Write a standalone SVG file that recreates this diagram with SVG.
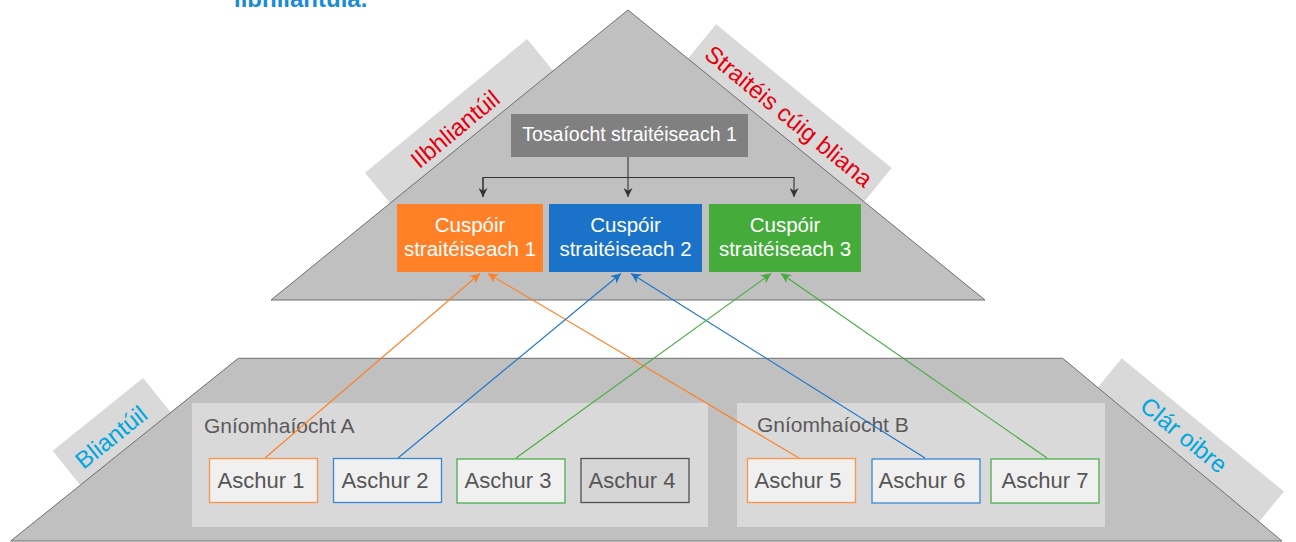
<svg xmlns="http://www.w3.org/2000/svg" width="1296" height="542" viewBox="0 0 1296 542">
<style>
  text { font-family: "Liberation Sans", Arial, sans-serif; }
  .ribbon { fill: #d9d9d9; }
  .shape { fill: #c0c0c0; stroke: #6e6e6e; stroke-width: 1; }
  .rtxt-red { fill: #e3000f; font-size: 24px; text-anchor: middle; }
  .rtxt-cyan { fill: #00a6df; font-size: 24px; text-anchor: middle; }
  .group { fill: #d9d9d9; }
  .grouplbl { fill: #5a5a5a; font-size: 21px; }
  .out { fill: #f0f0f0; stroke-width: 1.3; }
  .outlbl { fill: #555555; font-size: 22px; text-anchor: middle; }
  .objlbl { fill: #ffffff; font-size: 20.5px; text-anchor: middle; }
  .conn { fill: none; stroke-width: 1.1; }
</style>
<defs>
  <marker id="ah-dark" viewBox="0 0 10 10" refX="10" refY="5" markerWidth="9" markerHeight="9" markerUnits="userSpaceOnUse" orient="auto">
    <path d="M0,0 L10,5 L0,10 L3,5 z" fill="#333333"/>
  </marker>
  <marker id="ah-orange" viewBox="0 0 10 10" refX="10" refY="5" markerWidth="10" markerHeight="10" markerUnits="userSpaceOnUse" orient="auto">
    <path d="M0,0 L10,5 L0,10 L3,5 z" fill="#ff8027"/>
  </marker>
  <marker id="ah-blue" viewBox="0 0 10 10" refX="10" refY="5" markerWidth="10" markerHeight="10" markerUnits="userSpaceOnUse" orient="auto">
    <path d="M0,0 L10,5 L0,10 L3,5 z" fill="#1a73c9"/>
  </marker>
  <marker id="ah-green" viewBox="0 0 10 10" refX="10" refY="5" markerWidth="10" markerHeight="10" markerUnits="userSpaceOnUse" orient="auto">
    <path d="M0,0 L10,5 L0,10 L3,5 z" fill="#45ac3c"/>
  </marker>
</defs>

<rect x="0" y="0" width="1296" height="542" fill="#ffffff"/>

<text x="234" y="7" font-size="24" font-weight="bold" fill="#1a8bd6">ilbhliantúla.</text>

<!-- ribbons (behind shapes) -->
<g id="ribbon-ilbhliantuil">
  <rect class="ribbon" x="0" y="0" width="210" height="50" transform="translate(365,172.7) rotate(-39.5)"/>
</g>
<g id="ribbon-straiteis">
  <rect class="ribbon" x="0" y="0" width="227" height="50" transform="translate(716,24.3) rotate(39.3)"/>
</g>
<g id="ribbon-bliantuil">
  <rect class="ribbon" x="0" y="0" width="116" height="50" transform="translate(52.7,450.7) rotate(-38.8)"/>
</g>
<g id="ribbon-clar">
  <rect class="ribbon" x="0" y="0" width="210" height="50" transform="translate(1121.7,358.3) rotate(39.4)"/>
</g>

<!-- main shapes -->
<g id="pyramid-top">
  <polygon class="shape" points="628,10 985,300 271,300"/>
</g>
<g id="trapezoid-bottom">
  <polygon class="shape" points="238.3,358.3 1062.7,358.3 1282,541 10.7,541"/>
</g>

<!-- ribbon labels -->
<g id="label-ilbhliantuil">
  <text class="rtxt-red" transform="translate(455,129) rotate(-39.5)" y="8.5">Ilbhliantúil</text>
</g>
<g id="label-straiteis">
  <text class="rtxt-red" transform="translate(789,116) rotate(39.3)" y="8.5">Straitéis cúig bliana</text>
</g>
<g id="label-bliantuil">
  <text class="rtxt-cyan" transform="translate(111,437) rotate(-38.8)" y="8.5">Bliantúil</text>
</g>
<g id="label-clar">
  <text class="rtxt-cyan" transform="translate(1184,435) rotate(39.4)" y="8.5">Clár oibre</text>
</g>

<!-- activity groups -->
<g id="group-a">
  <rect class="group" x="192" y="403" width="516" height="124"/>
  <text class="grouplbl" x="204" y="433">Gníomhaíocht A</text>
</g>
<g id="group-b">
  <rect class="group" x="737" y="403" width="368" height="124"/>
  <text class="grouplbl" x="757" y="432">Gníomhaíocht B</text>
</g>

<!-- priority -->
<g id="priority-1">
  <rect x="511" y="114" width="237" height="43" fill="#808080"/>
  <text x="629.5" y="141" font-size="19.5" fill="#ffffff" text-anchor="middle">Tosaíocht straitéiseach 1</text>
</g>

<!-- objectives -->
<g id="objective-1">
  <rect x="397" y="204" width="146" height="68" fill="#ff8027"/>
  <text class="objlbl" x="470" y="232">Cuspóir</text>
  <text class="objlbl" x="470" y="256">straitéiseach 1</text>
</g>
<g id="objective-2">
  <rect x="549" y="204" width="153" height="68" fill="#1a73c9"/>
  <text class="objlbl" x="625.5" y="232">Cuspóir</text>
  <text class="objlbl" x="625.5" y="256">straitéiseach 2</text>
</g>
<g id="objective-3">
  <rect x="709" y="204" width="152" height="68" fill="#45ac3c"/>
  <text class="objlbl" x="785" y="232">Cuspóir</text>
  <text class="objlbl" x="785" y="256">straitéiseach 3</text>
</g>

<!-- connectors -->
<g id="connectors">
  <path class="conn" stroke="#333333" d="M628,157 V197" marker-end="url(#ah-dark)"/>
  <path class="conn" stroke="#333333" d="M483,197 V177.5 H794 V197" marker-end="url(#ah-dark)"/>
  <path class="conn" stroke="#333333" d="M483,177.5 V197" marker-end="url(#ah-dark)"/>
  <path class="conn" stroke="#ff8027" d="M265,458 L480,273.5" marker-end="url(#ah-orange)"/>
  <path class="conn" stroke="#ff8027" d="M799,458 L488,273.5" marker-end="url(#ah-orange)"/>
  <path class="conn" stroke="#1a73c9" d="M398,458 L621,273.5" marker-end="url(#ah-blue)"/>
  <path class="conn" stroke="#1a73c9" d="M925,458 L631,273.5" marker-end="url(#ah-blue)"/>
  <path class="conn" stroke="#45ac3c" d="M516,458 L771,273.5" marker-end="url(#ah-green)"/>
  <path class="conn" stroke="#45ac3c" d="M1047,458 L781,273.5" marker-end="url(#ah-green)"/>
</g>

<!-- outputs -->
<g id="output-1">
  <rect class="out" x="209.5" y="458.5" width="108" height="44" stroke="#ff9447"/>
  <text class="outlbl" x="261" y="488">Aschur 1</text>
</g>
<g id="output-2">
  <rect class="out" x="333.5" y="458.5" width="108" height="44" stroke="#3a86d4"/>
  <text class="outlbl" x="385" y="488">Aschur 2</text>
</g>
<g id="output-3">
  <rect class="out" x="457" y="459" width="108" height="44" stroke="#4caf4f"/>
  <text class="outlbl" x="508" y="488">Aschur 3</text>
</g>
<g id="output-4">
  <rect x="581" y="458.5" width="108" height="44" fill="#d6d6d6" stroke="#505050" stroke-width="1.3"/>
  <text class="outlbl" x="632" y="488">Aschur 4</text>
</g>
<g id="output-5">
  <rect class="out" x="747.5" y="458.5" width="108" height="44" stroke="#ff9447"/>
  <text class="outlbl" x="798" y="488">Aschur 5</text>
</g>
<g id="output-6">
  <rect class="out" x="872" y="459" width="108" height="44" stroke="#3a86d4"/>
  <text class="outlbl" x="922" y="488">Aschur 6</text>
</g>
<g id="output-7">
  <rect class="out" x="991" y="459" width="108" height="44" stroke="#4caf4f"/>
  <text class="outlbl" x="1045" y="488">Aschur 7</text>
</g>
</svg>
